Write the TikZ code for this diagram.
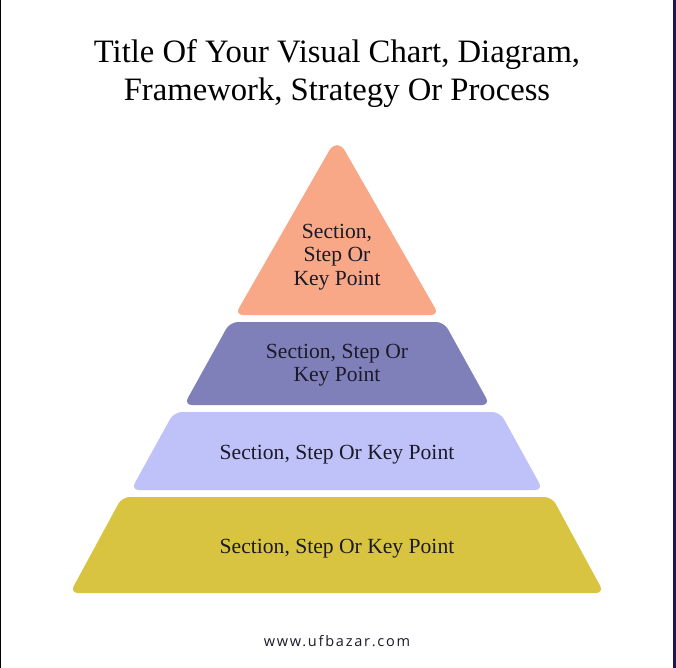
\documentclass[tikz,border=0pt]{standalone}
\usepackage{fontspec}
\setmainfont{Liberation Serif}
\newfontfamily\footfont[LetterSpace=12]{Open Sans}
\definecolor{salmon}{HTML}{F8A886}
\definecolor{tierpurple}{HTML}{7F80BA}
\definecolor{lavender}{HTML}{BEC2F8}
\definecolor{mustard}{HTML}{D9C441}
\definecolor{textdark}{HTML}{1C1A28}
\definecolor{edgenavy}{HTML}{21155A}
\begin{document}
\begin{tikzpicture}[x=0.75pt,y=-0.75pt,
  tier/.style={rounded corners=6pt},
  lbl/.style={font=\fontsize{16.2}{17.6}\selectfont, text=textdark, align=center, inner sep=0pt},
  ttl/.style={font=\fontsize{24.5}{28}\selectfont, text=black, anchor=base, inner sep=0pt}]
\useasboundingbox (0,0) rectangle (676,668);
\fill[white] (0,0) rectangle (676,668);
\fill[black] (0,0) rectangle (1,668);
\fill[edgenavy] (673,0) rectangle (676,668);
% title
\node[ttl] (title1) at (337,62) {Title Of Your Visual Chart, Diagram,};
\node[ttl] (title2) at (337,100) {Framework, Strategy Or Process};
% tiers
\fill[salmon] (337,315) [rounded corners=6pt] -- (439,315) [rounded corners=12pt] -- (337,137) [rounded corners=6pt] -- (235,315) -- cycle;
\fill[tierpurple, tier] (337,405) -- (490,405) -- (444,322) -- (230,322) -- (184,405) -- cycle;
\fill[lavender, tier] (337,490) -- (543,490) -- (500,412) -- (174,412) -- (131,490) -- cycle;
\fill[mustard, tier] (337,593) -- (604,593) -- (552,497) -- (122,497) -- (70,593) -- cycle;
% labels
\node[lbl] (l1) at (337,257) {Section,\\Step Or\\Key Point};
\node[lbl] (l2) at (337,365) {Section, Step Or\\Key Point};
\node[lbl] (l3) at (337,455) {Section, Step Or Key Point};
\node[lbl] (l4) at (337,549) {Section, Step Or Key Point};
% footer
\node[font=\footfont\fontsize{10.9}{13}\selectfont, text=textdark, inner sep=0pt] (foot) at (337,641) {www.ufbazar.com};
\end{tikzpicture}
\end{document}
